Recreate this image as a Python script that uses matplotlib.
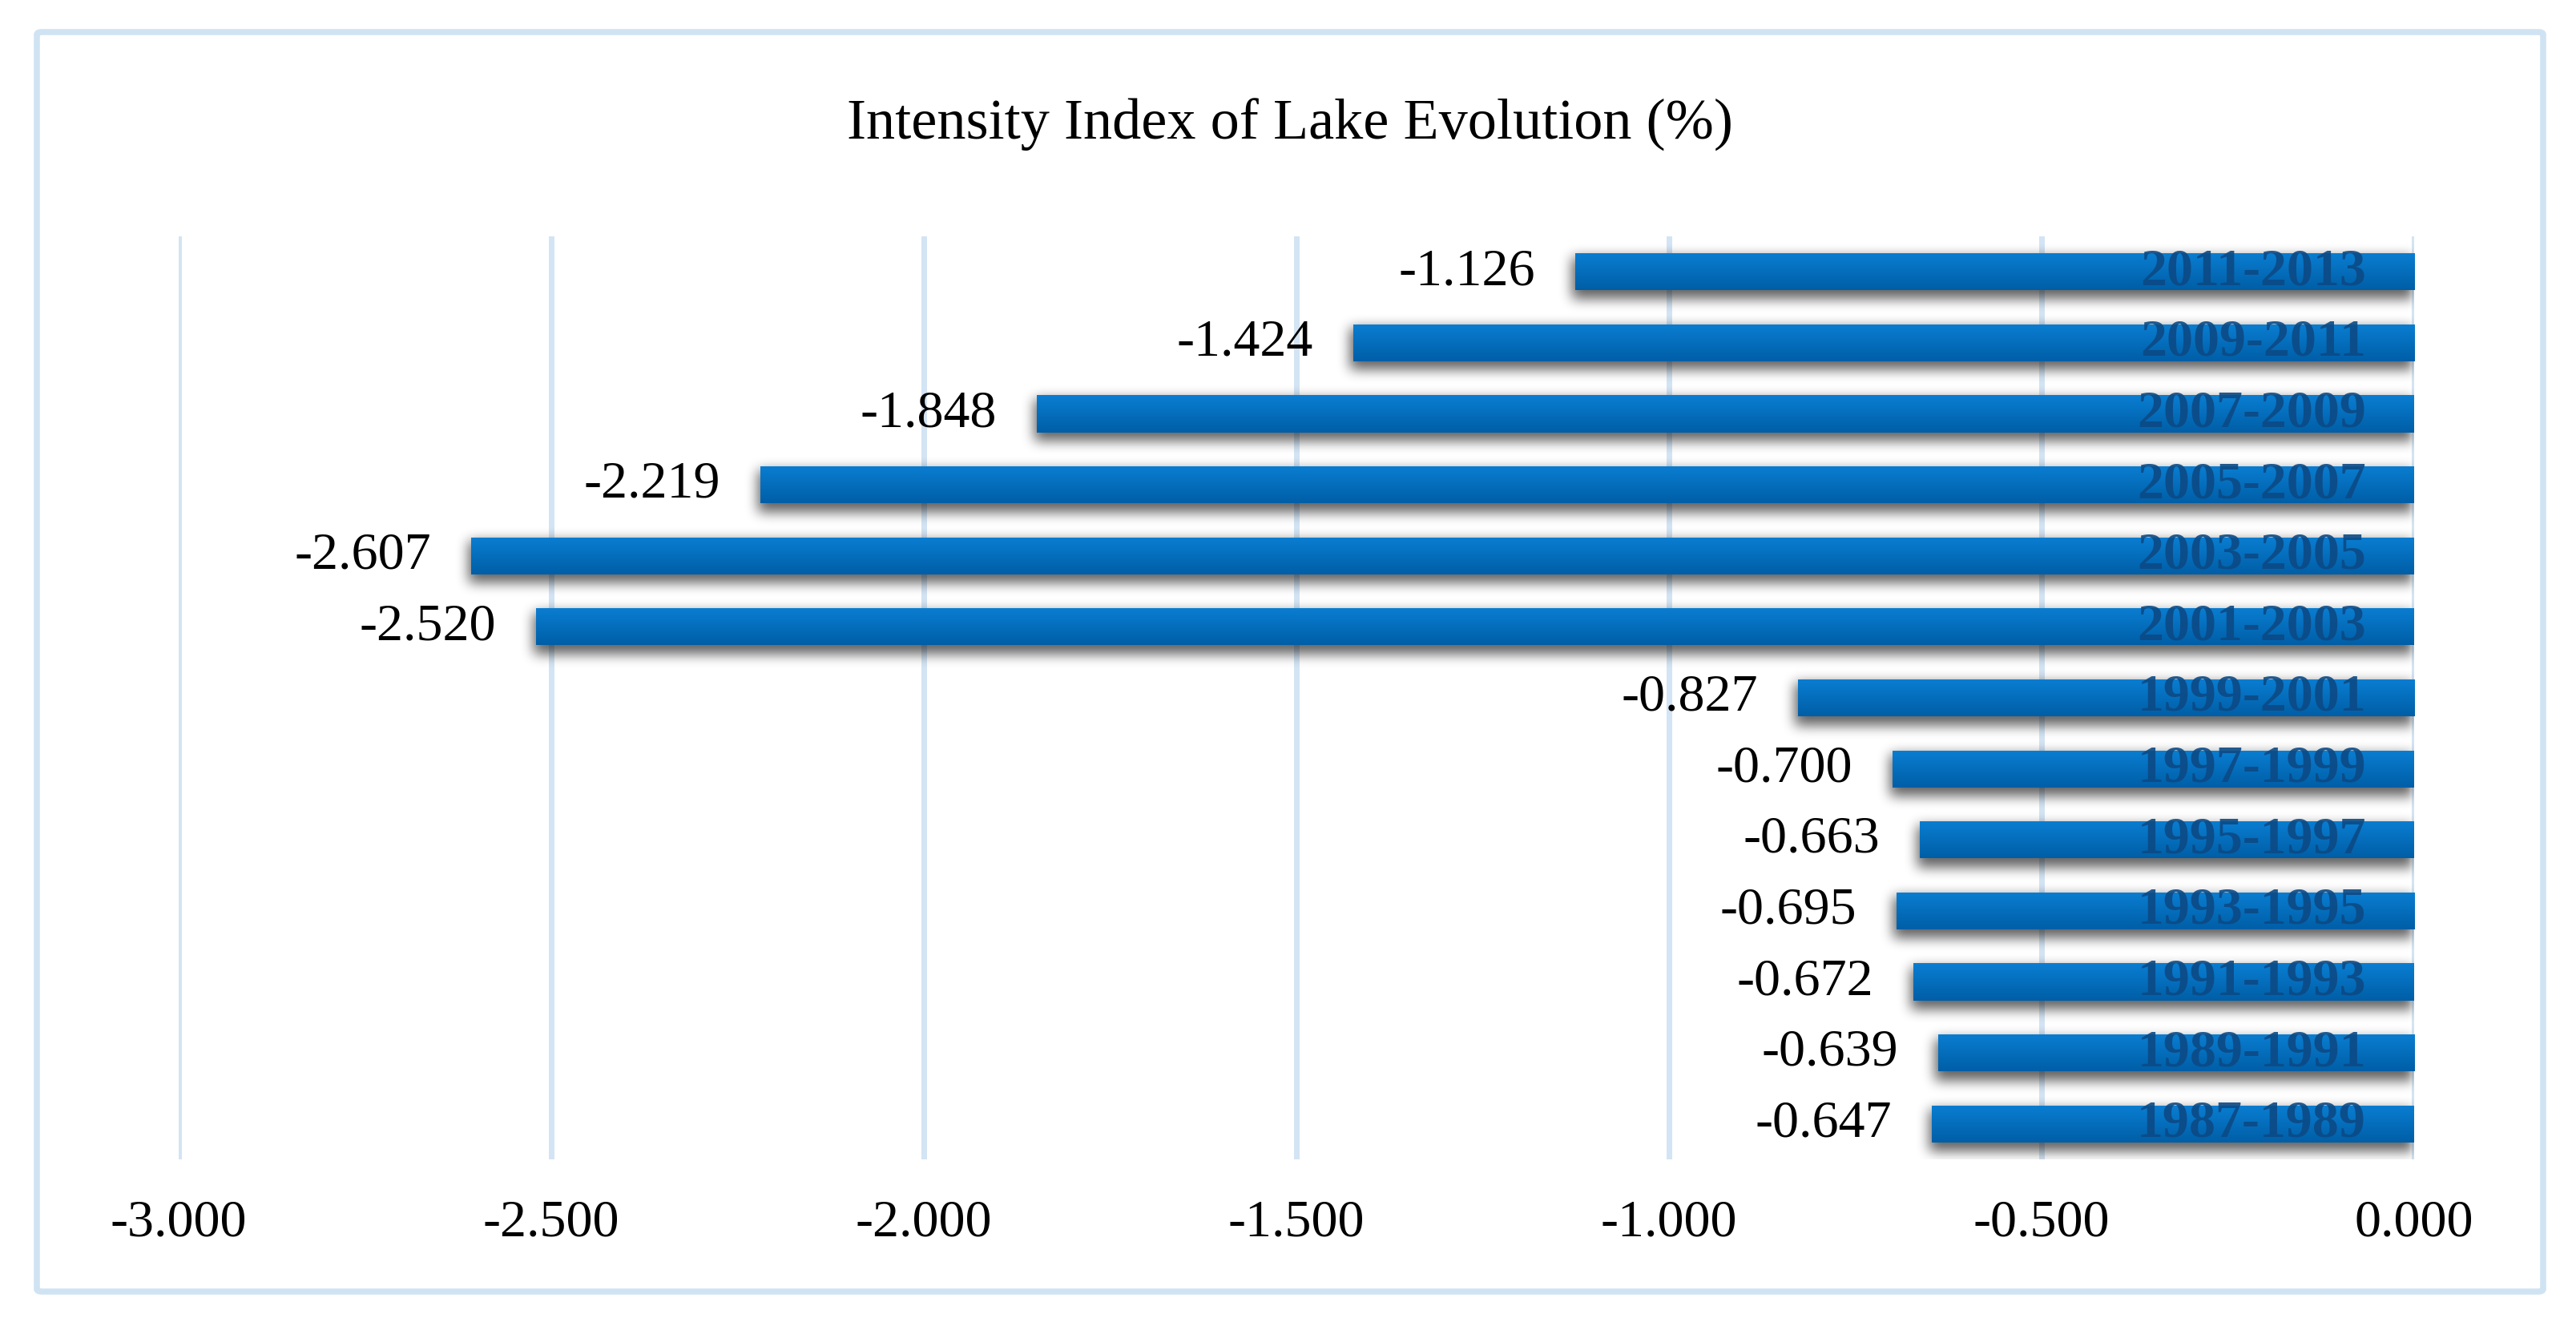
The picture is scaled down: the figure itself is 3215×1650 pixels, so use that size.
import matplotlib
matplotlib.use('Agg')
import matplotlib.pyplot as plt
import numpy as np
from matplotlib.patches import FancyBboxPatch
from matplotlib.colors import LinearSegmentedColormap

# ---------------- data ----------------
periods = ['1987-1989', '1989-1991', '1991-1993', '1993-1995', '1995-1997',
           '1997-1999', '1999-2001', '2001-2003', '2003-2005', '2005-2007',
           '2007-2009', '2009-2011', '2011-2013']
intensity = [-0.647, -0.639, -0.672, -0.695, -0.663, -0.700, -0.827,
             -2.520, -2.607, -2.219, -1.848, -1.424, -1.126]
xticks = [-3.0, -2.5, -2.0, -1.5, -1.0, -0.5, 0.0]
xtick_labels = ['-3.000', '-2.500', '-2.000', '-1.500', '-1.000', '-0.500', '0.000']
title = 'Intensity Index of Lake Evolution (%)'

# ---------------- style ----------------
plt.rcParams['font.family'] = ['Liberation Serif', 'DejaVu Serif']
W, H = 3216, 1650
fig = plt.figure(figsize=(W / 100, H / 100), dpi=100)
fig.patch.set_facecolor('white')

ax = fig.add_axes([223 / W, (H - 1447) / H, (3013 - 223) / W, (1447 - 295) / H])
y = np.arange(len(periods))
bar_h = 0.52
bars = ax.barh(y, intensity, height=bar_h, color='#0070C0', zorder=3)
ax.set_xlim(-3, 0)
ax.set_ylim(-0.5, len(periods) - 0.5)

# gradient fill
cmap = LinearSegmentedColormap.from_list('bar', ['#005EA6', '#0A7ED2'])
grad = np.linspace(0, 1, 256).reshape(-1, 1)
for b in bars:
    x0, yb = b.get_xy()
    w, hgt = b.get_width(), b.get_height()
    xl, xr = min(x0, x0 + w), max(x0, x0 + w)
    im = ax.imshow(grad, extent=(xl, xr, yb, yb + hgt), origin='lower',
                   cmap=cmap, aspect='auto', interpolation='bicubic', zorder=4)
    im.set_clip_path(b)

ax.set_xlim(-3, 0)
ax.set_ylim(-0.5, len(periods) - 0.5)

# soft shadow rendered as a blurred mask in pixel space
fig.canvas.draw()
bb = ax.get_window_extent()
aw, ah = int(round(bb.width)), int(round(bb.height))
mask = np.zeros((ah, aw))
dx, dy, grow = 0, -8, 3
for b in bars:
    (px0, py0), (px1, py1) = ax.transData.transform(
        [(b.get_x(), b.get_y()), (b.get_x() + b.get_width(), b.get_y() + b.get_height())])
    xa, xb = sorted([px0 - bb.x0, px1 - bb.x0])
    ya, yb_ = sorted([py0 - bb.y0, py1 - bb.y0])
    xa, xb = int(xa + dx - grow), int(xb + dx + grow)
    ya, yb_ = int(ya + dy - grow), int(yb_ + dy + grow)
    mask[max(ya, 0):max(yb_, 0), max(xa, 0):max(xb, 0)] = 1.0

def box_blur(a, r, axis):
    pad = [(0, 0), (0, 0)]
    pad[axis] = (r + 1, r)
    c = np.cumsum(np.pad(a, pad), axis=axis)
    n = a.shape[axis]
    if axis == 0:
        return (c[2 * r + 1:2 * r + 1 + n] - c[0:n]) / (2 * r + 1)
    return (c[:, 2 * r + 1:2 * r + 1 + n] - c[:, 0:n]) / (2 * r + 1)

for _ in range(3):
    mask = box_blur(mask, 7, 0)
    mask = box_blur(mask, 7, 1)

rgba = np.zeros((ah, aw, 4))
rgba[..., 3] = np.clip(mask, 0, 1) * 0.62
ax.imshow(rgba, extent=(0, 1, 0, 1), transform=ax.transAxes, origin='lower',
          aspect='auto', interpolation='bilinear', zorder=2)
ax.set_xlim(-3, 0)
ax.set_ylim(-0.5, len(periods) - 0.5)

# labels
for i, (p, v) in enumerate(zip(periods, intensity)):
    ax.annotate(f'{v:.3f}', xy=(v, i), xytext=(-50 * 0.72, 0),
                textcoords='offset points', ha='right', va='center',
                fontsize=47.5, color='black', zorder=6)
    ax.annotate(p, xy=(0, i), xytext=(-60 * 0.72, 0),
                textcoords='offset points', ha='right', va='center',
                fontsize=47.5, fontweight='bold', color='#0C4A85', alpha=0.9,
                zorder=6)

ax.set_xticks(xticks, xtick_labels)
ax.set_yticks([])
ax.tick_params(axis='x', length=0, pad=36, labelsize=47.5, colors='black')
ax.grid(axis='x', color='#D3E4F4', linewidth=5, zorder=0)
ax.grid(axis='y', visible=False)
ax.set_axisbelow(True)
for s in ax.spines.values():
    s.set_visible(False)
ax.set_facecolor('none')

fig.text(1610 / W, 1 - 156 / H, title, ha='center', va='center', fontsize=52)

border = FancyBboxPatch((46 / W, (H - 1612) / H), (3174 - 46) / W, (1612 - 40) / H,
                        boxstyle='round,pad=0,rounding_size=0.002',
                        transform=fig.transFigure, fill=False,
                        edgecolor='#D0E3F3', linewidth=5.5)
fig.patches.append(border)

fig.savefig('out.png', dpi=100, facecolor='white')
